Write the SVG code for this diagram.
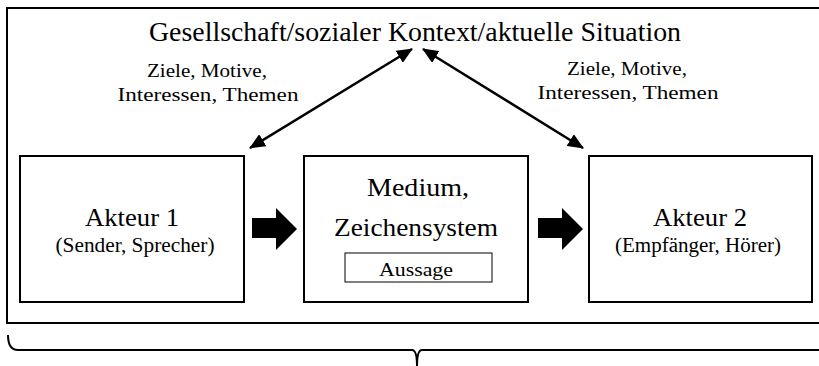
<svg xmlns="http://www.w3.org/2000/svg" width="819" height="366" viewBox="0 0 819 366">
<style>
text{font-family:"Liberation Serif","DejaVu Serif",serif;fill:#000;text-anchor:middle}
.box{fill:#fff;stroke:#000;stroke-width:2}
.big{font-size:26px}
.mid{font-size:20px}
.lab{font-size:18.5px}
.conn{stroke:#000;stroke-width:2.5;fill:none}
</style>
<defs>
<marker id="ah" viewBox="0 0 16 14" refX="15" refY="7" markerWidth="16" markerHeight="14" markerUnits="userSpaceOnUse" orient="auto-start-reverse">
<path d="M0,0 L16,7 L0,14 z" fill="#000"/>
</marker>
</defs>
<rect width="819" height="366" fill="#fff"/>
<g id="context">
<rect x="7" y="8" width="830" height="315" fill="none" stroke="#000" stroke-width="2"/>
<text x="415" y="41" style="font-size:27px" textLength="532" lengthAdjust="spacingAndGlyphs">Gesellschaft/sozialer Kontext/aktuelle Situation</text>
</g>
<g id="label-left">
<text class="lab" x="207" y="77" textLength="120" lengthAdjust="spacingAndGlyphs">Ziele, Motive,</text>
<text class="lab" x="208" y="101" textLength="181" lengthAdjust="spacingAndGlyphs">Interessen, Themen</text>
</g>
<g id="label-right">
<text class="lab" x="627" y="75" textLength="120" lengthAdjust="spacingAndGlyphs">Ziele, Motive,</text>
<text class="lab" x="628" y="99" textLength="181" lengthAdjust="spacingAndGlyphs">Interessen, Themen</text>
</g>
<g id="akteur1">
<rect class="box" x="20" y="156" width="224" height="146"/>
<text class="big" x="132" y="226" textLength="94" lengthAdjust="spacingAndGlyphs">Akteur 1</text>
<text class="mid" x="135" y="252" textLength="159" lengthAdjust="spacingAndGlyphs">(Sender, Sprecher)</text>
</g>
<g id="medium">
<rect class="box" x="304" y="156" width="224" height="146"/>
<text class="big" x="418" y="196" textLength="102" lengthAdjust="spacingAndGlyphs">Medium,</text>
<text class="big" x="416" y="236" textLength="164" lengthAdjust="spacingAndGlyphs">Zeichensystem</text>
<rect x="345" y="253" width="147" height="29" fill="#fff" stroke="#000" stroke-width="1"/>
<text class="mid" x="416" y="276" style="font-size:19px" textLength="74" lengthAdjust="spacingAndGlyphs">Aussage</text>
</g>
<g id="akteur2">
<rect class="box" x="589" y="156" width="223" height="146"/>
<text class="big" x="700" y="226" textLength="94" lengthAdjust="spacingAndGlyphs">Akteur 2</text>
<text class="mid" x="698" y="252" textLength="166" lengthAdjust="spacingAndGlyphs">(Empfänger, Hörer)</text>
</g>
<g id="connectors">
<line class="conn" x1="250" y1="148" x2="412" y2="49" marker-start="url(#ah)" marker-end="url(#ah)"/>
<line class="conn" x1="423" y1="49" x2="583" y2="148" marker-start="url(#ah)" marker-end="url(#ah)"/>
<path d="M252,218 H276 V208 L297,229 L276,250 V238 H252 z" fill="#000"/>
<path d="M538,218 H562 V208 L583,229 L562,250 V238 H538 z" fill="#000"/>
<path class="conn" style="stroke-width:2" d="M8,335 Q8,350 18,350 H412 Q417,350 417,366 M417,366 Q417,350 422,350 H830"/>
</g>
</svg>
